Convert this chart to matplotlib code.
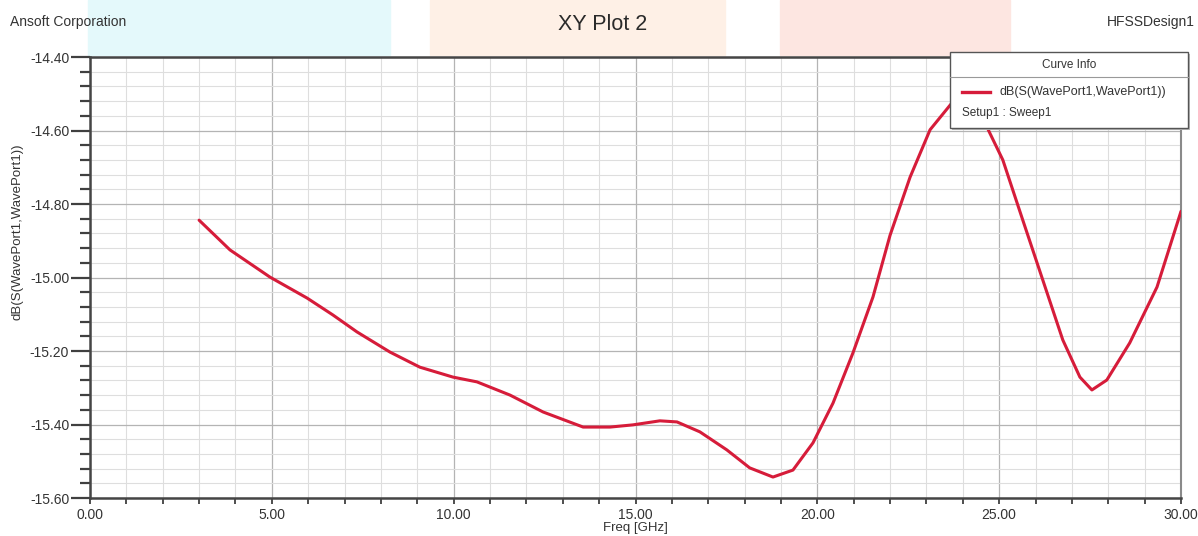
import numpy as np
import matplotlib
matplotlib.use('Agg')
import matplotlib.pyplot as plt
from matplotlib.patches import Rectangle
from matplotlib.lines import Line2D
from matplotlib.ticker import MultipleLocator, FormatStrFormatter

plt.rcParams['font.family'] = ['Liberation Sans', 'DejaVu Sans']

# 读取数据
freq = [3.0, 3.85, 4.95, 5.97, 6.68, 7.34, 8.25, 9.07, 9.98, 10.64, 11.55,
        12.46, 13.56, 14.3, 14.93, 15.67, 16.14, 16.77, 17.51, 18.14, 18.78,
        19.33, 19.88, 20.43, 20.98, 21.53, 22.0, 22.55, 23.1, 23.7, 24.0,
        24.3, 24.66, 25.1, 25.65, 26.2, 26.75, 27.22, 27.55, 27.96, 28.59,
        29.34, 30.0]
s11_db = [-14.844, -14.925, -14.999, -15.056, -15.102, -15.148, -15.203,
          -15.244, -15.271, -15.284, -15.320, -15.366, -15.407, -15.407,
          -15.401, -15.390, -15.393, -15.420, -15.469, -15.518, -15.543,
          -15.524, -15.450, -15.342, -15.205, -15.053, -14.885, -14.727,
          -14.598, -14.525, -14.512, -14.535, -14.590, -14.680, -14.844,
          -15.007, -15.170, -15.271, -15.306, -15.279, -15.178, -15.026,
          -14.820]

curve_label = 'dB(S(WavePort1,WavePort1))'
setup_label = 'Setup1 : Sweep1'
W, H = 1198, 536

fig = plt.figure(figsize=(W / 100, H / 100), dpi=100)

# 水印 faint background blocks
for x0, x1, c in [(88, 390, '#e4f9fb'), (430, 725, '#fef0e6'), (780, 1010, '#fde6e1')]:
    fig.patches.append(Rectangle((x0 / W, 1 - 55 / H), (x1 - x0) / W, 55 / H,
                                 transform=fig.transFigure, color=c, zorder=0))

ax = fig.add_axes([90 / W, 1 - 498 / H, (1181 - 90) / W, (498 - 57) / H])
ax.set_zorder(2)
ax.patch.set_alpha(0)
ax.plot(freq, s11_db, color='#d61c3a', lw=2.2, solid_capstyle='round',
        solid_joinstyle='round', zorder=3)

ax.set_xlim(0, 30)
ax.set_ylim(-15.6, -14.4)
ax.xaxis.set_major_locator(MultipleLocator(5))
ax.xaxis.set_minor_locator(MultipleLocator(1))
ax.yaxis.set_major_locator(MultipleLocator(0.2))
ax.yaxis.set_minor_locator(MultipleLocator(0.04))
ax.xaxis.set_major_formatter(FormatStrFormatter('%.2f'))
ax.yaxis.set_major_formatter(FormatStrFormatter('%.2f'))

ax.grid(which='major', color='#b4b4b4', lw=0.9)
ax.grid(which='minor', color='#dedede', lw=0.8)
ax.set_axisbelow(True)

ax.tick_params(axis='y', which='major', length=14, width=1.6, color='#404040',
               labelsize=10, labelcolor='#333333', pad=1)
ax.tick_params(axis='y', which='minor', length=7, width=1.6, color='#404040')
ax.tick_params(axis='x', which='both', length=4, width=1.3, color='#404040',
               labelsize=10, labelcolor='#333333', pad=3)

for s in ['left', 'bottom', 'top']:
    ax.spines[s].set_color('#454545')
    ax.spines[s].set_linewidth(1.8)
ax.spines['right'].set_color('#8a8a8a')
ax.spines['right'].set_linewidth(1.5)

fig.text(635 / W, 1 - 528 / H, 'Freq [GHz]', fontsize=9.5, color='#333333',
         ha='center', va='center')
fig.text(18 / W, 1 - 232 / H, curve_label, rotation=90, fontsize=9.5,
         color='#333333', ha='center', va='center')

fig.text(10 / W, 1 - 22 / H, 'Ansoft Corporation', fontsize=10, color='#333333',
         ha='left', va='center')
fig.text(603 / W, 1 - 25 / H, 'XY Plot 2', fontsize=15.5, color='#2a2a2a',
         ha='center', va='center')
fig.text(1195 / W, 1 - 22 / H, 'HFSSDesign1', fontsize=10, color='#333333',
         ha='right', va='center')

# Curve Info box
bx0, bx1, by0, by1 = 950, 1188, 52, 128
fig.patches.append(Rectangle((bx0 / W + 2 / W, 1 - (by1 + 2) / H), (bx1 - bx0) / W, (by1 - by0) / H,
                             transform=fig.transFigure, facecolor='#b8b8b8', edgecolor='none', zorder=5))
fig.patches.append(Rectangle((bx0 / W, 1 - by1 / H), (bx1 - bx0) / W, (by1 - by0) / H,
                             transform=fig.transFigure, facecolor='white', edgecolor='#555555',
                             lw=1.0, zorder=6))
fig.lines.append(Line2D([bx0 / W, bx1 / W], [1 - 77 / H, 1 - 77 / H], transform=fig.transFigure,
                        color='#999999', lw=0.8, zorder=7))
fig.text((bx0 + bx1) / 2 / W, 1 - 65 / H, 'Curve Info', fontsize=8.5, color='#333333',
         ha='center', va='center', zorder=8)
fig.lines.append(Line2D([962 / W, 990 / W], [1 - 92 / H, 1 - 92 / H], transform=fig.transFigure,
                        color='#d61c3a', lw=2.4, zorder=8))
fig.text(1000 / W, 1 - 92 / H, curve_label, fontsize=9, color='#333333',
         ha='left', va='center', zorder=8)
fig.text(962 / W, 1 - 113 / H, setup_label, fontsize=8.5, color='#333333',
         ha='left', va='center', zorder=8)

fig.savefig('out.png', dpi=100)
